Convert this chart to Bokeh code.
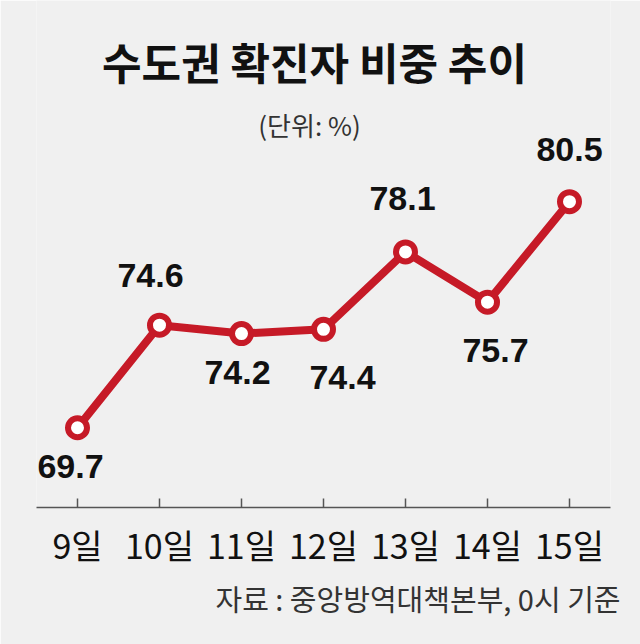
from bokeh.plotting import figure
from bokeh.models import ColumnDataSource, FactorRange, Range1d, Label, Title
from bokeh.core.properties import value
from bokeh.embed import file_html
from bokeh.resources import INLINE

# ---- data ----
days = ["9일", "10일", "11일", "12일", "13일", "14일", "15일"]
share = [69.7, 74.6, 74.2, 74.4, 78.1, 75.7, 80.5]

title_text = "수도권 확진자 비중 추이"
unit_text = "(단위: %)"
source_text = "자료 : 중앙방역대책본부, 0시 기준"

# ---- layout (label placement, in pixels) ----
label_dx = [-7, -9, -4, 19, -3, 8, 0]
label_dy = [39, -50, 39, 48, -53, 48, -52]

BG = "#f0f0f0"
RED = "#c61a27"
KR = "Noto Sans CJK KR"

src = ColumnDataSource(dict(
    day=days, val=share,
    lab=[f"{v:.1f}" for v in share],
    dx=label_dx, dy=label_dy,
))

p = figure(width=640, height=644,
           x_range=FactorRange(factors=days, range_padding=0),
           y_range=Range1d(65.89, 90.11),
           output_backend="svg", toolbar_location=None,
           min_border_left=36, min_border_right=30,
           min_border_top=0, min_border_bottom=137,
           y_axis_location=None,
           background_fill_color=BG, border_fill_color=BG,
           outline_line_color=None)
p.grid.visible = False

# x axis
ax = p.xaxis[0]
ax.axis_line_color = "#555555"
ax.axis_line_width = 1.5
ax.major_tick_line_color = "#555555"
ax.major_tick_line_width = 1.5
ax.major_tick_in = 9
ax.major_tick_out = 0
ax.minor_tick_line_color = None
ax.major_label_text_font = KR
ax.major_label_text_font_size = "34px"
ax.major_label_text_color = "#111111"
ax.major_label_standoff = 12

# line and markers
p.line("day", "val", source=src, line_color=RED, line_width=8, line_join="round")
p.scatter("day", "val", source=src, size=19, fill_color="white",
          line_color=RED, line_width=6)

# value labels
p.text("day", "val", text="lab", x_offset="dx", y_offset="dy", source=src,
       text_font=value("Liberation Sans"), text_font_style="bold",
       text_font_size="34px", text_align="center", text_baseline="middle",
       text_color="#111111")

# title, unit
p.add_layout(Label(x=278, y=447, x_units="screen", y_units="screen",
                   text=title_text, text_font=KR, text_font_style="bold",
                   text_font_size="43px", text_color="#111111",
                   text_align="center", text_baseline="middle"))
p.add_layout(Label(x=273, y=383, x_units="screen", y_units="screen",
                   text=unit_text, text_font=KR,
                   text_font_size="26px", text_color="#333333",
                   text_align="center", text_baseline="middle"))

# source note below the axis
foot = Title(text=source_text, align="right", text_font=KR,
             text_font_size="29px", text_font_style="normal",
             text_color="#333333", standoff=6, offset=-10)
p.add_layout(foot, "below")

open("out.html", "w").write(file_html(p, INLINE))
